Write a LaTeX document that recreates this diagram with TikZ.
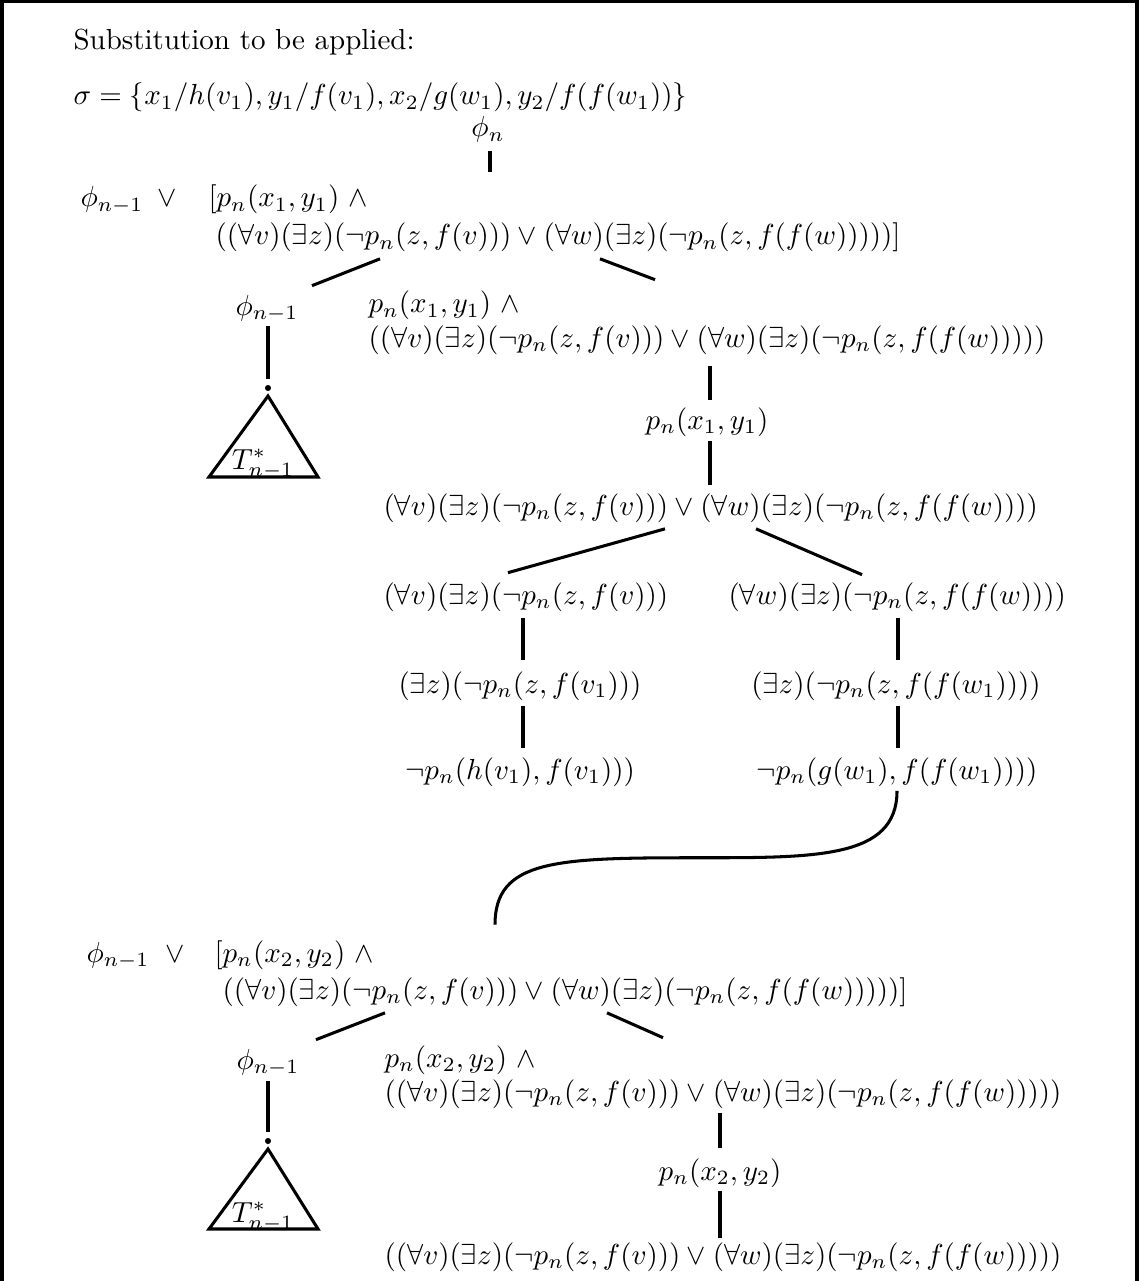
\documentclass[tikz,border=0pt]{standalone}
\usetikzlibrary{calc}
\begin{document}
\begin{tikzpicture}[x=0.3448pt, y=-0.3448pt,
  txt/.style={inner sep=0pt, text height=7.5pt, text depth=2.5pt},
  lft/.style={txt, anchor=base west},
  mid/.style={txt, anchor=base},
  edge/.style={line width=1.05pt},
  frame/.style={line width=1.4pt},
  leaf/.style={circle, fill, inner sep=0pt, minimum size=2.1pt},
  subtree/.style={line width=1.05pt, line join=miter}]
\useasboundingbox (0,0) rectangle (1139,1281);
% open frame
\draw[frame] (2,1300) -- (2,1) -- (1137,1) -- (1137,1300);

% header
\node[lft] (title) at (73,50) {Substitution to be applied:};
\node[lft] (subst) at (73,105) {$\sigma=\{x_1/h(v_1), y_1/f(v_1), x_2/g(w_1), y_2/f(f(w_1))\}$};

% first tree
\node[mid] (phin) at (488,137) {$\phi_n$};
\node[lft] (a0phi) at (80,207) {$\phi_{n-1}$};
\node[lft] (a0or) at (157,207) {$\vee$};
\node[lft] (a0top) at (208,207) {$[p_n(x_1,y_1)\ \wedge$};
\node[lft] (a0bot) at (215,245) {$((\forall v)(\exists z)(\neg p_n(z,f(v)))\vee(\forall w)(\exists z)(\neg p_n(z,f(f(w)))))]$};
\node[mid] (b0phi) at (267,315) {$\phi_{n-1}$};
\node[lft] (b0top) at (368,313) {$p_n(x_1,y_1)\ \wedge$};
\node[lft] (b0bot) at (368,347) {$((\forall v)(\exists z)(\neg p_n(z,f(v)))\vee(\forall w)(\exists z)(\neg p_n(z,f(f(w)))))$};
\node[leaf] (b0leaf) at (268,388) {};
\node[mid] (b0tree) at (263,469) {$T^*_{n-1}$};
\node[mid] (c0) at (707,429) {$p_n(x_1,y_1)$};
\node[lft] (d0) at (383,515) {$(\forall v)(\exists z)(\neg p_n(z,f(v)))\vee(\forall w)(\exists z)(\neg p_n(z,f(f(w))))$};
\node[lft] (e0l) at (383,604) {$(\forall v)(\exists z)(\neg p_n(z,f(v)))$};
\node[lft] (e0r) at (728,604) {$(\forall w)(\exists z)(\neg p_n(z,f(f(w))))$};
\node[mid] (f0l) at (520,693) {$(\exists z)(\neg p_n(z,f(v_1)))$};
\node[mid] (f0r) at (896,693) {$(\exists z)(\neg p_n(z,f(f(w_1))))$};
\node[mid] (g0l) at (520,779) {$\neg p_n(h(v_1),f(v_1)))$};
\node[mid] (g0r) at (897,779) {$\neg p_n(g(w_1),f(f(w_1))))$};

\draw[edge] ($(phin.south)+(2,6)$) -- ($(phin.south |- a0top.north)+(2,-12.25)$);
\draw[edge] ($(a0bot.south west)+(165,6)$) -- ($(b0phi.north)+(45,-7)$);
\draw[edge] ($(a0bot.south west)+(385,6)$) -- ($(b0top.north west)+(287,-11)$);
\draw[edge] ($(b0phi.south)+(1,3)$) -- ($(b0leaf.north)+(0,-5)$);
\draw[subtree] ($(b0leaf)+(0,8)$) -- ($(b0leaf)+(50,89)$) -- ($(b0leaf)+(-59,89)$) -- cycle;
\draw[edge] ($(b0bot.south west)+(342,11)$) -- ($(c0.north)+(3,-7)$);
\draw[edge] ($(c0.south)+(3,4)$) -- ($(d0.north west)+(327,-8)$);
\draw[edge] ($(d0.south west)+(282,6)$) -- ($(e0l.north west)+(125,-9)$);
\draw[edge] ($(d0.south west)+(373,6)$) -- ($(e0r.north west)+(134,-7)$);
\draw[edge] ($(e0l.south west)+(140,6)$) -- ($(f0l.north)+(3,-11)$);
\draw[edge] ($(e0r.south west)+(170,6)$) -- ($(f0r.north)+(2,-11)$);
\draw[edge] ($(f0l.south)+(3,5)$) -- ($(g0l.north)+(3,-9)$);
\draw[edge] ($(f0r.south)+(2,5)$) -- ($(g0r.north)+(1,-9)$);

% second tree
\node[lft] (a1phi) at (86,962) {$\phi_{n-1}$};
\node[lft] (a1or) at (165,962) {$\vee$};
\node[lft] (a1top) at (214,962) {$[p_n(x_2,y_2)\ \wedge$};
\node[lft] (a1bot) at (222,999) {$((\forall v)(\exists z)(\neg p_n(z,f(v)))\vee(\forall w)(\exists z)(\neg p_n(z,f(f(w)))))]$};
\node[mid] (b1phi) at (268,1069) {$\phi_{n-1}$};
\node[lft] (b1top) at (384,1067) {$p_n(x_2,y_2)\ \wedge$};
\node[lft] (b1bot) at (384,1101) {$((\forall v)(\exists z)(\neg p_n(z,f(v)))\vee(\forall w)(\exists z)(\neg p_n(z,f(f(w)))))$};
\node[leaf] (b1leaf) at (268,1141) {};
\node[mid] (b1tree) at (263,1222) {$T^*_{n-1}$};
\node[mid] (c1) at (720,1180) {$p_n(x_2,y_2)$};
\node[lft] (d1) at (384,1264) {$((\forall v)(\exists z)(\neg p_n(z,f(v)))\vee(\forall w)(\exists z)(\neg p_n(z,f(f(w)))))$};

\draw[edge] ($(a1bot.south west)+(163,6)$) -- ($(b1phi.north)+(48,-7)$);
\draw[edge] ($(a1bot.south west)+(385,6)$) -- ($(b1top.north west)+(279,-7)$);
\draw[edge] ($(b1phi.south)+(0,4)$) -- ($(b1leaf.north)+(0,-5)$);
\draw[subtree] ($(b1leaf)+(0,8)$) -- ($(b1leaf)+(50,88)$) -- ($(b1leaf)+(-59,88)$) -- cycle;
\draw[edge] ($(b1bot.south west)+(336,4)$) -- ($(c1.north)+(0,-10)$);
\draw[edge] ($(c1.south)+(0,3)$) -- ($(d1.north west)+(336,-4)$);

% link from the first tree to the second
\coordinate (jS) at ($(g0r.south)+(0,4)$);
\coordinate (jE) at ($(a1top.north west)+(281,-15)$);
\draw[edge] (jS) .. controls +(0,68) and +(120,0) .. ($(jS)!0.5!(jE)$)
  .. controls +(-140,0) and +(0,-65) .. (jE);
\end{tikzpicture}
\end{document}
